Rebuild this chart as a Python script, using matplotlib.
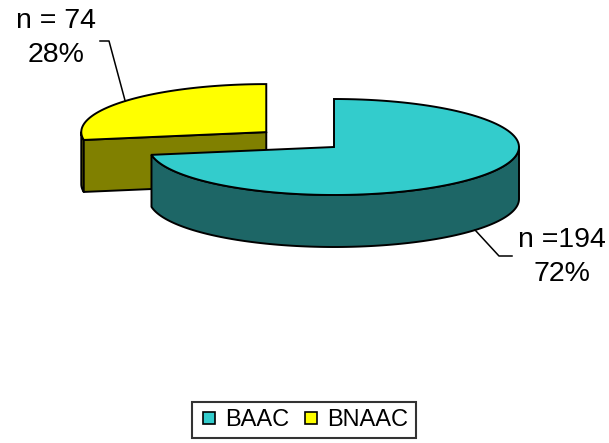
import numpy as np
import matplotlib.pyplot as plt
from matplotlib.patches import Polygon
from matplotlib.lines import Line2D

plt.rcParams['font.family'] = ['Liberation Sans', 'DejaVu Sans']

# data
labels = ["BAAC", "BNAAC"]
counts = [194, 74]
count_text = ["n =194", "n = 74"]
explode = [0.0, 0.48]
top_colors = ["#33CCCC", "#FFFF00"]
side_colors = ["#1D6666", "#808000"]

W, H = 609, 443
fig = plt.figure(figsize=(W / 100, H / 100), dpi=100)
ax = fig.add_axes([0, 0, 1, 1])
ax.set_xlim(0, W)
ax.set_ylim(H, 0)
ax.axis('off')

# pie geometry (pixels)
cx, cy = 334, 147
rx, ry = 185, 48
depth = 52
lw = 1.4


def pt(c, t, dz=0):
    r = np.radians(t)
    return (c[0] + rx * np.cos(r), c[1] - ry * np.sin(r) + dz)


def arc(c, a, b, dz=0, n=120):
    return [pt(c, t, dz) for t in np.linspace(a, b, n)]


total = sum(counts)
slices = []
t_end = 90.0
for i, n in enumerate(counts):
    sweep = 360.0 * n / total
    t0, t1 = t_end - sweep, t_end
    t_end = t0
    mid = (t0 + t1) / 2
    c = (cx + explode[i] * rx * np.cos(np.radians(mid)),
         cy - explode[i] * ry * np.sin(np.radians(mid)))
    slices.append(dict(i=i, t0=t0, t1=t1, mid=mid, c=c))

# draw back slices first
for s in sorted(slices, key=lambda s: s['c'][1]):
    c, t0, t1, i = s['c'], s['t0'], s['t1'], s['i']
    # visible outer wall
    for k in range(-2, 2):
        a, b = max(t0, 180 + 360 * k), min(t1, 360 + 360 * k)
        if a < b:
            poly = arc(c, a, b) + arc(c, b, a, depth)
            ax.add_patch(Polygon(poly, closed=True, fc=side_colors[i], ec='black', lw=lw, joinstyle='round'))
    # visible cut faces
    for t, vis in ((t0, np.cos(np.radians(t0)) > 1e-6), (t1, np.cos(np.radians(t1)) < -1e-6)):
        if vis:
            poly = [c, pt(c, t), pt(c, t, depth), (c[0], c[1] + depth)]
            ax.add_patch(Polygon(poly, closed=True, fc=side_colors[i], ec='black', lw=lw, joinstyle='round'))
    # top face
    poly = [c] + arc(c, t0, t1)
    ax.add_patch(Polygon(poly, closed=True, fc=top_colors[i], ec='black', lw=lw, joinstyle='miter'))

# labels with leader lines
label_pos = {0: (562, 227), 1: (56, 8)}
for s in slices:
    i = s['i']
    pct = 100.0 * counts[i] / total
    tx, ty = label_pos[i]
    ax.text(tx, ty, f"{count_text[i]}\n{pct:.0f}%", ha='center', va='top',
            fontsize=20.5, linespacing=1.42, color='black')
    if np.sin(np.radians(s['mid'])) < 0:
        anchor = pt(s['c'], s['mid'], depth)
        xs = [anchor[0], tx - 63, tx - 50]
        ys = [anchor[1], ty + 29, ty + 29]
    else:
        anchor = pt(s['c'], s['mid'])
        xs = [anchor[0], tx + 53, tx + 44]
        ys = [anchor[1], ty + 33, ty + 33]
    ax.plot(xs, ys, color='black', lw=1.1)

handles = [Line2D([], [], ls='none', marker='s', markersize=9, markerfacecolor=top_colors[i],
                  markeredgecolor='black', markeredgewidth=1.2) for i in range(len(labels))]
leg = fig.legend(handles, labels, loc='center', bbox_to_anchor=(304 / W, 1 - 420 / H), ncol=2,
                 frameon=True, fancybox=False, edgecolor='black', fontsize=17,
                 handlelength=0.8, handletextpad=0.3, columnspacing=0.5, borderpad=0.3)
leg.get_frame().set_linewidth(1.5)

fig.savefig('out.png', dpi=100)
